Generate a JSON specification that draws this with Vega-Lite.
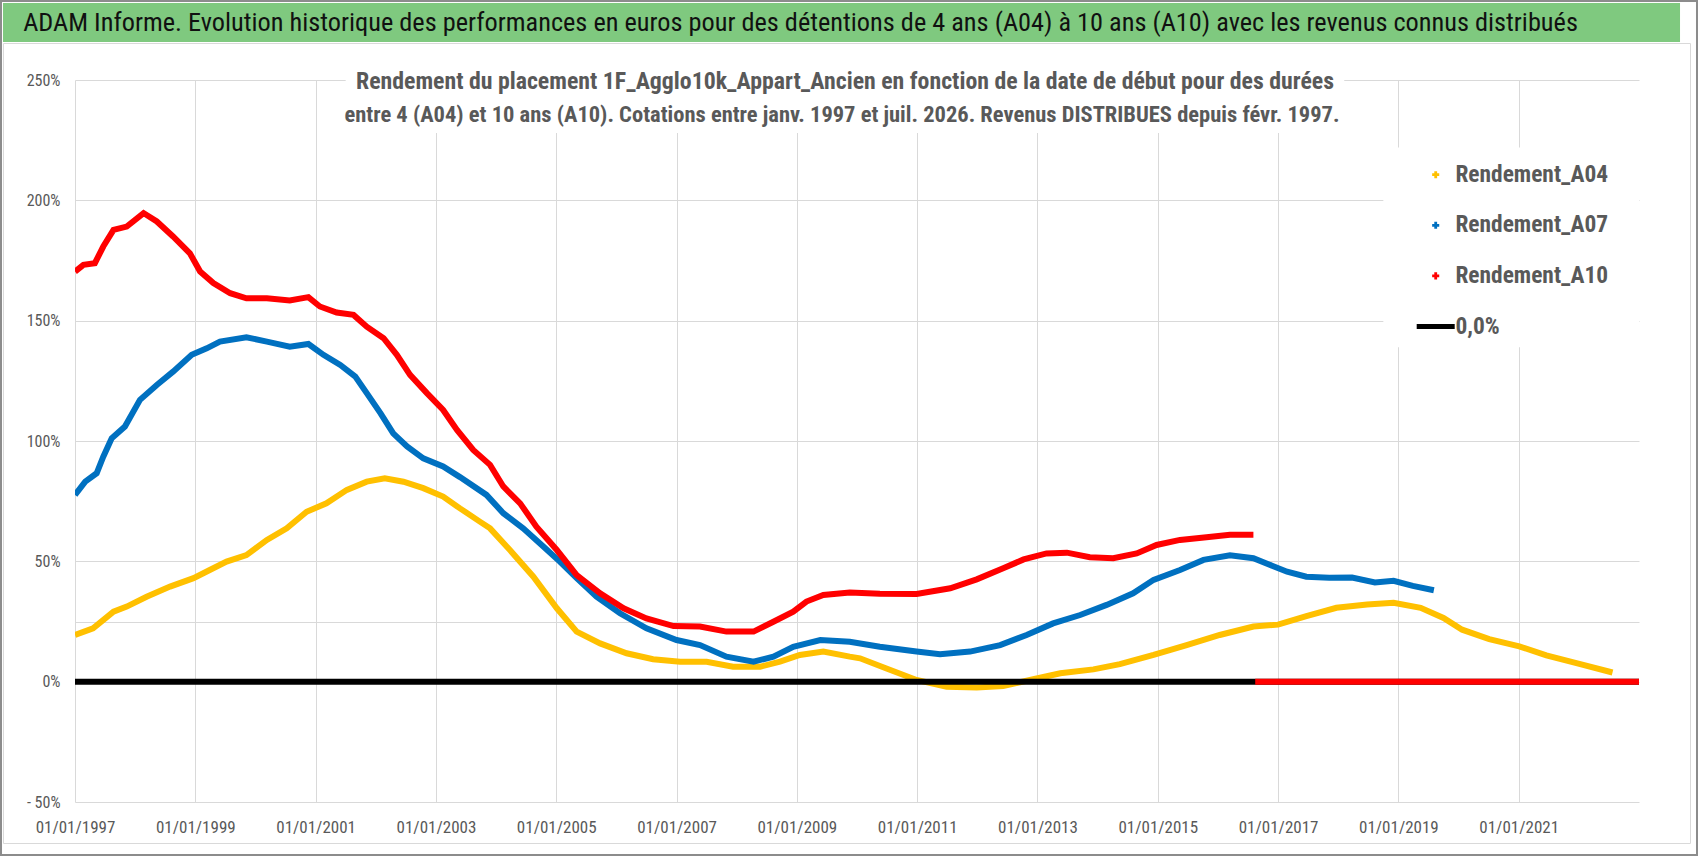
{
  "$schema": "https://vega.github.io/schema/vega-lite/v6.json",
  "padding": 0,
  "background": "white",
  "width": 1564,
  "height": 722,
  "config": {
    "view": {"stroke": null},
    "font": "'Roboto Condensed', Roboto, sans-serif"
  },
  "data": {
    "values": [
      {"serie": "Rendement_A04", "segment": "a", "annee": 1997.00, "rendement": 19.4},
      {"serie": "Rendement_A04", "segment": "a", "annee": 1997.30, "rendement": 22.2},
      {"serie": "Rendement_A04", "segment": "a", "annee": 1997.64, "rendement": 29.1},
      {"serie": "Rendement_A04", "segment": "a", "annee": 1997.86, "rendement": 31.2},
      {"serie": "Rendement_A04", "segment": "a", "annee": 1998.19, "rendement": 35.3},
      {"serie": "Rendement_A04", "segment": "a", "annee": 1998.58, "rendement": 39.5},
      {"serie": "Rendement_A04", "segment": "a", "annee": 1998.97, "rendement": 43.0},
      {"serie": "Rendement_A04", "segment": "a", "annee": 1999.24, "rendement": 46.4},
      {"serie": "Rendement_A04", "segment": "a", "annee": 1999.52, "rendement": 49.9},
      {"serie": "Rendement_A04", "segment": "a", "annee": 1999.85, "rendement": 52.6},
      {"serie": "Rendement_A04", "segment": "a", "annee": 2000.19, "rendement": 58.9},
      {"serie": "Rendement_A04", "segment": "a", "annee": 2000.52, "rendement": 63.7},
      {"serie": "Rendement_A04", "segment": "a", "annee": 2000.85, "rendement": 70.6},
      {"serie": "Rendement_A04", "segment": "a", "annee": 2001.18, "rendement": 74.1},
      {"serie": "Rendement_A04", "segment": "a", "annee": 2001.52, "rendement": 79.7},
      {"serie": "Rendement_A04", "segment": "a", "annee": 2001.85, "rendement": 83.1},
      {"serie": "Rendement_A04", "segment": "a", "annee": 2002.15, "rendement": 84.5},
      {"serie": "Rendement_A04", "segment": "a", "annee": 2002.46, "rendement": 83.1},
      {"serie": "Rendement_A04", "segment": "a", "annee": 2002.79, "rendement": 80.4},
      {"serie": "Rendement_A04", "segment": "a", "annee": 2003.12, "rendement": 76.9},
      {"serie": "Rendement_A04", "segment": "a", "annee": 2003.40, "rendement": 72.0},
      {"serie": "Rendement_A04", "segment": "a", "annee": 2003.73, "rendement": 66.5},
      {"serie": "Rendement_A04", "segment": "a", "annee": 2003.90, "rendement": 63.7},
      {"serie": "Rendement_A04", "segment": "a", "annee": 2004.23, "rendement": 54.7},
      {"serie": "Rendement_A04", "segment": "a", "annee": 2004.62, "rendement": 43.6},
      {"serie": "Rendement_A04", "segment": "a", "annee": 2005.01, "rendement": 30.5},
      {"serie": "Rendement_A04", "segment": "a", "annee": 2005.34, "rendement": 20.8},
      {"serie": "Rendement_A04", "segment": "a", "annee": 2005.73, "rendement": 15.9},
      {"serie": "Rendement_A04", "segment": "a", "annee": 2006.17, "rendement": 11.8},
      {"serie": "Rendement_A04", "segment": "a", "annee": 2006.61, "rendement": 9.3},
      {"serie": "Rendement_A04", "segment": "a", "annee": 2007.06, "rendement": 8.3},
      {"serie": "Rendement_A04", "segment": "a", "annee": 2007.50, "rendement": 8.3},
      {"serie": "Rendement_A04", "segment": "a", "annee": 2007.94, "rendement": 6.2},
      {"serie": "Rendement_A04", "segment": "a", "annee": 2008.39, "rendement": 6.2},
      {"serie": "Rendement_A04", "segment": "a", "annee": 2008.72, "rendement": 8.3},
      {"serie": "Rendement_A04", "segment": "a", "annee": 2009.05, "rendement": 11.1},
      {"serie": "Rendement_A04", "segment": "a", "annee": 2009.44, "rendement": 12.5},
      {"serie": "Rendement_A04", "segment": "a", "annee": 2009.88, "rendement": 10.4},
      {"serie": "Rendement_A04", "segment": "a", "annee": 2010.05, "rendement": 9.7},
      {"serie": "Rendement_A04", "segment": "a", "annee": 2010.49, "rendement": 5.5},
      {"serie": "Rendement_A04", "segment": "a", "annee": 2010.99, "rendement": 0.7},
      {"serie": "Rendement_A04", "segment": "a", "annee": 2011.49, "rendement": -2.1},
      {"serie": "Rendement_A04", "segment": "a", "annee": 2011.99, "rendement": -2.4},
      {"serie": "Rendement_A04", "segment": "a", "annee": 2012.43, "rendement": -1.8},
      {"serie": "Rendement_A04", "segment": "a", "annee": 2012.93, "rendement": 1.0},
      {"serie": "Rendement_A04", "segment": "a", "annee": 2013.38, "rendement": 3.5},
      {"serie": "Rendement_A04", "segment": "a", "annee": 2013.93, "rendement": 5.1},
      {"serie": "Rendement_A04", "segment": "a", "annee": 2014.37, "rendement": 7.3},
      {"serie": "Rendement_A04", "segment": "a", "annee": 2014.93, "rendement": 11.1},
      {"serie": "Rendement_A04", "segment": "a", "annee": 2015.48, "rendement": 15.2},
      {"serie": "Rendement_A04", "segment": "a", "annee": 2016.03, "rendement": 19.4},
      {"serie": "Rendement_A04", "segment": "a", "annee": 2016.59, "rendement": 22.9},
      {"serie": "Rendement_A04", "segment": "a", "annee": 2017.00, "rendement": 23.7},
      {"serie": "Rendement_A04", "segment": "a", "annee": 2017.47, "rendement": 27.2},
      {"serie": "Rendement_A04", "segment": "a", "annee": 2017.97, "rendement": 30.7},
      {"serie": "Rendement_A04", "segment": "a", "annee": 2018.48, "rendement": 32.1},
      {"serie": "Rendement_A04", "segment": "a", "annee": 2018.92, "rendement": 32.8},
      {"serie": "Rendement_A04", "segment": "a", "annee": 2019.37, "rendement": 30.7},
      {"serie": "Rendement_A04", "segment": "a", "annee": 2019.75, "rendement": 26.5},
      {"serie": "Rendement_A04", "segment": "a", "annee": 2020.06, "rendement": 21.6},
      {"serie": "Rendement_A04", "segment": "a", "annee": 2020.51, "rendement": 17.7},
      {"serie": "Rendement_A04", "segment": "a", "annee": 2021.01, "rendement": 14.7},
      {"serie": "Rendement_A04", "segment": "a", "annee": 2021.46, "rendement": 10.9},
      {"serie": "Rendement_A04", "segment": "a", "annee": 2021.96, "rendement": 7.7},
      {"serie": "Rendement_A04", "segment": "a", "annee": 2022.56, "rendement": 3.8},

      {"serie": "Rendement_A07", "segment": "a", "annee": 1997.00, "rendement": 77.6},
      {"serie": "Rendement_A07", "segment": "a", "annee": 1997.17, "rendement": 83.1},
      {"serie": "Rendement_A07", "segment": "a", "annee": 1997.36, "rendement": 86.6},
      {"serie": "Rendement_A07", "segment": "a", "annee": 1997.47, "rendement": 93.5},
      {"serie": "Rendement_A07", "segment": "a", "annee": 1997.61, "rendement": 101.1},
      {"serie": "Rendement_A07", "segment": "a", "annee": 1997.83, "rendement": 106.0},
      {"serie": "Rendement_A07", "segment": "a", "annee": 1998.08, "rendement": 117.1},
      {"serie": "Rendement_A07", "segment": "a", "annee": 1998.36, "rendement": 123.3},
      {"serie": "Rendement_A07", "segment": "a", "annee": 1998.63, "rendement": 128.8},
      {"serie": "Rendement_A07", "segment": "a", "annee": 1998.94, "rendement": 135.8},
      {"serie": "Rendement_A07", "segment": "a", "annee": 1999.19, "rendement": 138.5},
      {"serie": "Rendement_A07", "segment": "a", "annee": 1999.41, "rendement": 141.3},
      {"serie": "Rendement_A07", "segment": "a", "annee": 1999.85, "rendement": 143.1},
      {"serie": "Rendement_A07", "segment": "a", "annee": 2000.19, "rendement": 141.3},
      {"serie": "Rendement_A07", "segment": "a", "annee": 2000.57, "rendement": 139.2},
      {"serie": "Rendement_A07", "segment": "a", "annee": 2000.88, "rendement": 140.3},
      {"serie": "Rendement_A07", "segment": "a", "annee": 2001.13, "rendement": 135.8},
      {"serie": "Rendement_A07", "segment": "a", "annee": 2001.41, "rendement": 131.6},
      {"serie": "Rendement_A07", "segment": "a", "annee": 2001.66, "rendement": 126.8},
      {"serie": "Rendement_A07", "segment": "a", "annee": 2001.85, "rendement": 119.9},
      {"serie": "Rendement_A07", "segment": "a", "annee": 2002.08, "rendement": 111.5},
      {"serie": "Rendement_A07", "segment": "a", "annee": 2002.29, "rendement": 103.2},
      {"serie": "Rendement_A07", "segment": "a", "annee": 2002.52, "rendement": 97.7},
      {"serie": "Rendement_A07", "segment": "a", "annee": 2002.79, "rendement": 92.8},
      {"serie": "Rendement_A07", "segment": "a", "annee": 2003.12, "rendement": 89.4},
      {"serie": "Rendement_A07", "segment": "a", "annee": 2003.40, "rendement": 85.0},
      {"serie": "Rendement_A07", "segment": "a", "annee": 2003.84, "rendement": 77.6},
      {"serie": "Rendement_A07", "segment": "a", "annee": 2004.12, "rendement": 70.0},
      {"serie": "Rendement_A07", "segment": "a", "annee": 2004.45, "rendement": 63.7},
      {"serie": "Rendement_A07", "segment": "a", "annee": 2004.79, "rendement": 56.1},
      {"serie": "Rendement_A07", "segment": "a", "annee": 2005.06, "rendement": 49.9},
      {"serie": "Rendement_A07", "segment": "a", "annee": 2005.34, "rendement": 43.0},
      {"serie": "Rendement_A07", "segment": "a", "annee": 2005.67, "rendement": 35.3},
      {"serie": "Rendement_A07", "segment": "a", "annee": 2006.06, "rendement": 28.4},
      {"serie": "Rendement_A07", "segment": "a", "annee": 2006.50, "rendement": 22.2},
      {"serie": "Rendement_A07", "segment": "a", "annee": 2007.00, "rendement": 17.3},
      {"serie": "Rendement_A07", "segment": "a", "annee": 2007.39, "rendement": 15.2},
      {"serie": "Rendement_A07", "segment": "a", "annee": 2007.83, "rendement": 10.4},
      {"serie": "Rendement_A07", "segment": "a", "annee": 2008.28, "rendement": 8.3},
      {"serie": "Rendement_A07", "segment": "a", "annee": 2008.61, "rendement": 10.4},
      {"serie": "Rendement_A07", "segment": "a", "annee": 2008.94, "rendement": 14.5},
      {"serie": "Rendement_A07", "segment": "a", "annee": 2009.39, "rendement": 17.3},
      {"serie": "Rendement_A07", "segment": "a", "annee": 2009.88, "rendement": 16.6},
      {"serie": "Rendement_A07", "segment": "a", "annee": 2010.38, "rendement": 14.5},
      {"serie": "Rendement_A07", "segment": "a", "annee": 2010.99, "rendement": 12.5},
      {"serie": "Rendement_A07", "segment": "a", "annee": 2011.38, "rendement": 11.4},
      {"serie": "Rendement_A07", "segment": "a", "annee": 2011.88, "rendement": 12.5},
      {"serie": "Rendement_A07", "segment": "a", "annee": 2012.38, "rendement": 15.2},
      {"serie": "Rendement_A07", "segment": "a", "annee": 2012.82, "rendement": 19.4},
      {"serie": "Rendement_A07", "segment": "a", "annee": 2013.26, "rendement": 24.2},
      {"serie": "Rendement_A07", "segment": "a", "annee": 2013.71, "rendement": 27.7},
      {"serie": "Rendement_A07", "segment": "a", "annee": 2014.15, "rendement": 31.9},
      {"serie": "Rendement_A07", "segment": "a", "annee": 2014.59, "rendement": 36.7},
      {"serie": "Rendement_A07", "segment": "a", "annee": 2014.93, "rendement": 42.3},
      {"serie": "Rendement_A07", "segment": "a", "annee": 2015.37, "rendement": 46.4},
      {"serie": "Rendement_A07", "segment": "a", "annee": 2015.76, "rendement": 50.6},
      {"serie": "Rendement_A07", "segment": "a", "annee": 2016.20, "rendement": 52.5},
      {"serie": "Rendement_A07", "segment": "a", "annee": 2016.59, "rendement": 51.3},
      {"serie": "Rendement_A07", "segment": "a", "annee": 2016.90, "rendement": 48.2},
      {"serie": "Rendement_A07", "segment": "a", "annee": 2017.15, "rendement": 45.7},
      {"serie": "Rendement_A07", "segment": "a", "annee": 2017.47, "rendement": 43.6},
      {"serie": "Rendement_A07", "segment": "a", "annee": 2017.85, "rendement": 43.2},
      {"serie": "Rendement_A07", "segment": "a", "annee": 2018.23, "rendement": 43.3},
      {"serie": "Rendement_A07", "segment": "a", "annee": 2018.61, "rendement": 41.2},
      {"serie": "Rendement_A07", "segment": "a", "annee": 2018.92, "rendement": 41.9},
      {"serie": "Rendement_A07", "segment": "a", "annee": 2019.24, "rendement": 39.8},
      {"serie": "Rendement_A07", "segment": "a", "annee": 2019.59, "rendement": 38.0},

      {"serie": "0,0%", "segment": "a", "annee": 1997.00, "rendement": 0},
      {"serie": "0,0%", "segment": "a", "annee": 2023.00, "rendement": 0},

      {"serie": "Rendement_A10", "segment": "a", "annee": 1997.00, "rendement": 170.4},
      {"serie": "Rendement_A10", "segment": "a", "annee": 1997.14, "rendement": 173.2},
      {"serie": "Rendement_A10", "segment": "a", "annee": 1997.33, "rendement": 173.9},
      {"serie": "Rendement_A10", "segment": "a", "annee": 1997.47, "rendement": 180.8},
      {"serie": "Rendement_A10", "segment": "a", "annee": 1997.64, "rendement": 187.7},
      {"serie": "Rendement_A10", "segment": "a", "annee": 1997.86, "rendement": 189.1},
      {"serie": "Rendement_A10", "segment": "a", "annee": 1998.14, "rendement": 194.7},
      {"serie": "Rendement_A10", "segment": "a", "annee": 1998.36, "rendement": 191.2},
      {"serie": "Rendement_A10", "segment": "a", "annee": 1998.63, "rendement": 185.0},
      {"serie": "Rendement_A10", "segment": "a", "annee": 1998.91, "rendement": 178.0},
      {"serie": "Rendement_A10", "segment": "a", "annee": 1999.08, "rendement": 170.4},
      {"serie": "Rendement_A10", "segment": "a", "annee": 1999.30, "rendement": 165.6},
      {"serie": "Rendement_A10", "segment": "a", "annee": 1999.58, "rendement": 161.4},
      {"serie": "Rendement_A10", "segment": "a", "annee": 1999.85, "rendement": 159.3},
      {"serie": "Rendement_A10", "segment": "a", "annee": 2000.19, "rendement": 159.3},
      {"serie": "Rendement_A10", "segment": "a", "annee": 2000.57, "rendement": 158.4},
      {"serie": "Rendement_A10", "segment": "a", "annee": 2000.88, "rendement": 159.8},
      {"serie": "Rendement_A10", "segment": "a", "annee": 2001.07, "rendement": 155.9},
      {"serie": "Rendement_A10", "segment": "a", "annee": 2001.35, "rendement": 153.4},
      {"serie": "Rendement_A10", "segment": "a", "annee": 2001.63, "rendement": 152.4},
      {"serie": "Rendement_A10", "segment": "a", "annee": 2001.85, "rendement": 147.5},
      {"serie": "Rendement_A10", "segment": "a", "annee": 2002.13, "rendement": 142.7},
      {"serie": "Rendement_A10", "segment": "a", "annee": 2002.35, "rendement": 135.8},
      {"serie": "Rendement_A10", "segment": "a", "annee": 2002.57, "rendement": 127.5},
      {"serie": "Rendement_A10", "segment": "a", "annee": 2002.85, "rendement": 119.9},
      {"serie": "Rendement_A10", "segment": "a", "annee": 2003.12, "rendement": 112.9},
      {"serie": "Rendement_A10", "segment": "a", "annee": 2003.35, "rendement": 104.6},
      {"serie": "Rendement_A10", "segment": "a", "annee": 2003.62, "rendement": 96.3},
      {"serie": "Rendement_A10", "segment": "a", "annee": 2003.90, "rendement": 90.1},
      {"serie": "Rendement_A10", "segment": "a", "annee": 2004.12, "rendement": 81.1},
      {"serie": "Rendement_A10", "segment": "a", "annee": 2004.40, "rendement": 74.1},
      {"serie": "Rendement_A10", "segment": "a", "annee": 2004.67, "rendement": 64.4},
      {"serie": "Rendement_A10", "segment": "a", "annee": 2005.01, "rendement": 54.7},
      {"serie": "Rendement_A10", "segment": "a", "annee": 2005.34, "rendement": 44.3},
      {"serie": "Rendement_A10", "segment": "a", "annee": 2005.73, "rendement": 36.7},
      {"serie": "Rendement_A10", "segment": "a", "annee": 2006.12, "rendement": 30.5},
      {"serie": "Rendement_A10", "segment": "a", "annee": 2006.50, "rendement": 26.3},
      {"serie": "Rendement_A10", "segment": "a", "annee": 2006.95, "rendement": 23.1},
      {"serie": "Rendement_A10", "segment": "a", "annee": 2007.39, "rendement": 22.9},
      {"serie": "Rendement_A10", "segment": "a", "annee": 2007.83, "rendement": 20.8},
      {"serie": "Rendement_A10", "segment": "a", "annee": 2008.28, "rendement": 20.8},
      {"serie": "Rendement_A10", "segment": "a", "annee": 2008.61, "rendement": 24.9},
      {"serie": "Rendement_A10", "segment": "a", "annee": 2008.94, "rendement": 29.1},
      {"serie": "Rendement_A10", "segment": "a", "annee": 2009.16, "rendement": 33.3},
      {"serie": "Rendement_A10", "segment": "a", "annee": 2009.44, "rendement": 36.0},
      {"serie": "Rendement_A10", "segment": "a", "annee": 2009.88, "rendement": 37.0},
      {"serie": "Rendement_A10", "segment": "a", "annee": 2010.38, "rendement": 36.5},
      {"serie": "Rendement_A10", "segment": "a", "annee": 2010.99, "rendement": 36.4},
      {"serie": "Rendement_A10", "segment": "a", "annee": 2011.55, "rendement": 38.8},
      {"serie": "Rendement_A10", "segment": "a", "annee": 2011.99, "rendement": 42.5},
      {"serie": "Rendement_A10", "segment": "a", "annee": 2012.43, "rendement": 47.1},
      {"serie": "Rendement_A10", "segment": "a", "annee": 2012.77, "rendement": 50.8},
      {"serie": "Rendement_A10", "segment": "a", "annee": 2013.15, "rendement": 53.3},
      {"serie": "Rendement_A10", "segment": "a", "annee": 2013.49, "rendement": 53.6},
      {"serie": "Rendement_A10", "segment": "a", "annee": 2013.87, "rendement": 51.7},
      {"serie": "Rendement_A10", "segment": "a", "annee": 2014.26, "rendement": 51.3},
      {"serie": "Rendement_A10", "segment": "a", "annee": 2014.65, "rendement": 53.3},
      {"serie": "Rendement_A10", "segment": "a", "annee": 2014.98, "rendement": 56.8},
      {"serie": "Rendement_A10", "segment": "a", "annee": 2015.37, "rendement": 58.9},
      {"serie": "Rendement_A10", "segment": "a", "annee": 2015.81, "rendement": 60.0},
      {"serie": "Rendement_A10", "segment": "a", "annee": 2016.20, "rendement": 61.0},
      {"serie": "Rendement_A10", "segment": "a", "annee": 2016.59, "rendement": 61.0},
      {"serie": "Rendement_A10", "segment": "b", "annee": 2016.62, "rendement": 0},
      {"serie": "Rendement_A10", "segment": "b", "annee": 2023.00, "rendement": 0}
    ]
  },
  "layer": [
    {
      "data": {"values": [{}]},
      "mark": {"type": "rect", "fill": null, "stroke": "#8c8c8c", "strokeWidth": 2, "clip": false},
      "encoding": {
        "x": {"datum": 1995.770, "type": "quantitative"},
        "x2": {"datum": 2023.964},
        "y": {"datum": 282.825, "type": "quantitative"},
        "y2": {"datum": -72.02}
      }
    },
    {
      "data": {"values": [{}]},
      "mark": {"type": "rect", "fill": null, "stroke": "#d9d9d9", "strokeWidth": 1, "clip": false},
      "encoding": {
        "x": {"datum": 1995.811, "type": "quantitative"},
        "x2": {"datum": 2023.856},
        "y": {"datum": 265.17, "type": "quantitative"},
        "y2": {"datum": -67.24}
      }
    },
    {
      "data": {"values": [{}]},
      "mark": {"type": "rect", "color": "#7FC97F", "clip": false},
      "encoding": {
        "x": {"datum": 1995.803, "type": "quantitative"},
        "x2": {"datum": 2023.682},
        "y": {"datum": 281.99, "type": "quantitative"},
        "y2": {"datum": 265.79}
      }
    },
    {
      "data": {"values": [{}]},
      "mark": {
        "type": "text",
        "text": "ADAM Informe. Evolution historique des performances en euros pour des détentions de 4 ans (A04) à 10 ans (A10) avec les revenus connus distribués",
        "align": "center",
        "baseline": "middle",
        "fontSize": 26.3,
        "color": "#111111"
      },
      "encoding": {
        "x": {"datum": 2009.061, "type": "quantitative"},
        "y": {"datum": 273.68, "type": "quantitative"}
      }
    },
    {
      "data": {"values": [{}]},
      "mark": {"type": "rect", "color": "white"},
      "encoding": {
        "x": {"datum": 2001.5, "type": "quantitative"},
        "x2": {"datum": 2018.1},
        "y": {"datum": 251.5, "type": "quantitative"},
        "y2": {"datum": 228}
      }
    },
    {
      "data": {"values": [{}]},
      "mark": {"type": "rect", "color": "white"},
      "encoding": {
        "x": {"datum": 2018.75, "type": "quantitative"},
        "x2": {"datum": 2023},
        "y": {"datum": 222, "type": "quantitative"},
        "y2": {"datum": 139}
      }
    },
    {
      "data": {"values": [{}]},
      "mark": {
        "type": "text",
        "text": "Rendement du placement 1F_Agglo10k_Appart_Ancien en fonction de la date de début pour des durées",
        "fontSize": 23.8,
        "fontWeight": "bold",
        "color": "#595959",
        "baseline": "middle"
      },
      "encoding": {
        "x": {"datum": 2009.8, "type": "quantitative"},
        "y": {"datum": 249.2, "type": "quantitative"}
      }
    },
    {
      "data": {"values": [{}]},
      "mark": {
        "type": "text",
        "text": "entre 4 (A04) et 10 ans (A10).  Cotations entre janv. 1997 et juil. 2026. Revenus DISTRIBUES depuis févr. 1997.",
        "fontSize": 22.5,
        "fontWeight": "bold",
        "color": "#595959",
        "baseline": "middle"
      },
      "encoding": {
        "x": {"datum": 2009.75, "type": "quantitative"},
        "y": {"datum": 235.4, "type": "quantitative"}
      }
    },
    {
      "transform": [{"filter": "datum.serie == 'Rendement_A04' || datum.serie == 'Rendement_A07' || datum.serie == '0,0%'"}],
      "mark": {"type": "line", "strokeWidth": 6, "clip": true},
      "encoding": {
        "x": {
          "field": "annee",
          "type": "quantitative",
          "scale": {"domain": [1997, 2023], "nice": false, "zero": false},
          "axis": {
            "title": null,
            "values": [1997, 1999, 2001, 2003, 2005, 2007, 2009, 2011, 2013, 2015, 2017, 2019, 2021],
            "labelExpr": "'01/01/' + datum.value",
            "labelOverlap": false,
            "labelFlush": false,
            "grid": true,
            "gridColor": "#d9d9d9",
            "domain": false,
            "ticks": false,
            "labelPadding": 17,
            "labelFontSize": 17,
            "labelColor": "#595959"
          }
        },
        "y": {
          "field": "rendement",
          "type": "quantitative",
          "scale": {"domain": [-50, 250], "nice": false, "zero": false},
          "axis": {
            "title": null,
            "values": [-50, 0, 25, 50, 100, 150, 200, 250],
            "labelExpr": "datum.value == 25 ? '' : (datum.value < 0 ? '- ' + abs(datum.value) + '%' : datum.value + '%')",
            "grid": true,
            "gridColor": "#d9d9d9",
            "domain": false,
            "ticks": false,
            "labelPadding": 15,
            "labelFontSize": 16,
            "labelColor": "#595959",
            "minExtent": 72,
            "maxExtent": 72
          }
        },
        "color": {
          "field": "serie",
          "type": "nominal",
          "scale": {
            "domain": ["Rendement_A04", "Rendement_A07", "Rendement_A10", "0,0%"],
            "range": ["#FFC000", "#0070C0", "#FF0000", "#000000"]
          },
          "legend": {
            "title": null,
            "orient": "none",
            "legendX": 1345,
            "legendY": 79,
            "direction": "vertical",
            "symbolType": "stroke",
            "symbolSize": 1444,
            "symbolStrokeWidth": 5,
            "labelFontSize": 23.4,
            "labelFontWeight": "bold",
            "labelColor": "#595959",
            "labelOffset": 8,
            "labelLimit": 400,
            "rowPadding": 25.6,
            "padding": 4,
            "encode": {
              "symbols": {
                "update": {
                  "shape": {"signal": "datum.value === '0,0%' ? 'stroke' : 'cross'"},
                  "size": {"signal": "datum.value === '0,0%' ? 1444 : 50"},
                  "strokeWidth": {"signal": "datum.value === '0,0%' ? 5 : 0"},
                  "fill": {"signal": "datum.value === 'Rendement_A04' ? '#FFC000' : datum.value === 'Rendement_A07' ? '#0070C0' : datum.value === 'Rendement_A10' ? '#FF0000' : 'transparent'"},
                  "fillOpacity": {"value": 1}
                }
              }
            }
          }
        },
        "detail": {"field": "segment"},
        "order": {"field": "annee"}
      }
    },
    {
      "transform": [{"filter": "datum.serie == 'Rendement_A10'"}],
      "mark": {"type": "line", "strokeWidth": 6, "clip": true},
      "encoding": {
        "x": {"field": "annee", "type": "quantitative"},
        "y": {"field": "rendement", "type": "quantitative"},
        "color": {"field": "serie", "type": "nominal"},
        "detail": {"field": "segment"},
        "order": {"field": "annee"}
      }
    }
  ]
}
